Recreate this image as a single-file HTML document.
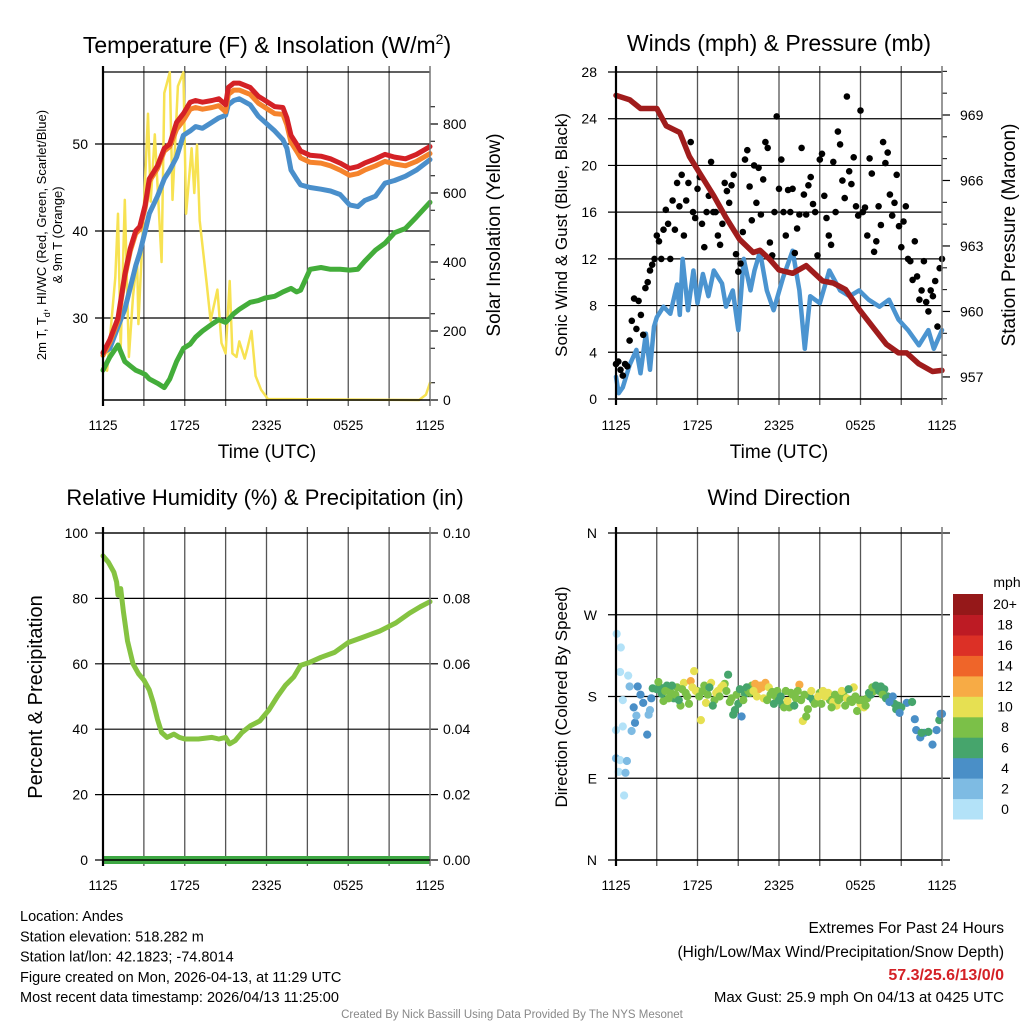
<!DOCTYPE html>
<html><head><meta charset="utf-8"><style>
html,body{margin:0;padding:0;background:#fff;}
svg{display:block;font-family:"Liberation Sans",Arial,sans-serif;}
</style></head><body>
<svg id="c" width="1024" height="1024" viewBox="0 0 1024 1024"></svg>
<script>
// ---------- DATA ----------
const tempT=[0,0.5,1.1,1.6,2,2.4,2.7,3.1,3.4,4,4.5,4.9,5.4,5.9,6.4,6.8,7.3,8,8.5,9,9.2,9.6,10,10.8,11.4,11.9,12.6,13.2,13.5,13.8,14.2,14.5,15.2,16,16.7,17.4,18.1,18.7,19.2,20,20.7,21.4,22.2,23,24];
const tempRed=[26,27.5,30,35,38,40,40.5,43,46,47.5,49.5,50,52.5,53.5,54.8,55,54.8,55,55.2,54.5,56.5,57,57,56.5,55.5,55,54.3,54.2,53,51,50,49.2,48.7,48.6,48.3,47.8,47.2,47.4,47.8,48.3,48.8,48.5,48.3,48.8,49.7];
const tempBlue=[26,26.5,29,31,33.5,36,37.5,40,42,44,46,47,48.5,51,51.5,52,51.8,52.5,53,53.3,54.5,55,55.2,54.5,53.2,52.5,51.5,50.5,49.5,47,46,45.3,45,44.8,44.6,44.2,43,42.8,43.5,44,45.5,45.8,46.3,47,48.2];
const tempGreen=[24,25.5,26.9,25,24.5,24,23.8,23.5,23,22.5,22,23,25,26.5,27,27.8,28.5,29.3,29.8,29.5,29.8,30.5,31,31.8,32,32.3,32.5,33,33.2,33.4,33,33.2,35.6,35.8,35.6,35.6,35.5,35.6,36.5,37.8,38.6,39.8,40.3,41.6,43.3];
const solarT=[0,0.3,0.9,1.1,1.3,1.6,1.9,2.2,2.5,2.6,3.0,3.3,3.5,3.8,4.3,4.5,4.9,5.1,5.5,5.9,6.1,6.5,6.7,6.9,7.1,7.6,7.9,8.4,8.7,9.0,9.3,9.5,9.8,10.0,10.4,10.6,10.9,11.2,11.6,12.1,23.2,23.7,24];
const solarW=[100,85,355,540,150,580,125,300,410,220,560,830,575,770,400,890,950,580,910,950,540,730,600,740,520,340,230,320,165,135,345,135,125,170,120,150,200,70,30,3,0,15,50];
const presT=[0,1,1.8,3,3.7,4.7,5.4,6.2,7.2,8.1,9.1,10.1,10.6,11.3,12,13,14,15.2,16,16.9,17.9,18.9,19.9,20.8,21.4,22.3,23.3,24];
const presMb=[969.9,969.7,969.3,969.3,968.5,968.2,967.1,966.3,965.3,964.3,963.3,962.7,962.8,962.4,961.9,961.75,962.1,961.4,961.3,961,960.1,959.3,958.5,958.1,958.1,957.6,957.25,957.3];
const windT=[0,0.2,0.5,1,1.5,1.8,2.2,2.5,2.8,3,3.5,4,4.5,4.7,4.9,5.3,5.7,6,6.4,6.8,7.2,7.8,8.1,8.6,9,9.4,9.9,10.2,10.6,11.1,11.6,12.3,13,13.5,13.9,14.3,15,15.7,16.5,17.2,17.9,18.6,19.4,20.1,20.8,21.5,22.3,23,23.4,24];
const windMph=[1.9,0.5,1,2.9,4.2,2.2,5.6,2.5,6.2,7,7.9,7.3,9.8,7.2,12,7.6,11,8.2,10.7,8.8,11,9.9,7.9,9.3,5.9,12,9.3,11,12.6,9.3,7.6,10.4,12.7,9.3,4.3,8.8,8.2,11,9.3,8.8,9.3,8.5,7.9,8.5,6.8,5.9,4.6,5.9,4.3,5.9];
const gustMph=[3,3.2,2.5,2,3,2.8, 5,6.7,8.6,6,8.4,7.2, 5.5,9.5,10,11,11.5,12, 14,13.5,12,14.5,16.2,15, 12,17,14.5,18.5,16.5,19.2, 14,17,18.5,22,16,15.5, 18,19,15,13,16,17.4, 20.3,16,16,14,13.2,15, 18.5,17.8,16.8,18.3,19.2,12.4, 10.9,11.6,14.3,20.5,21.3,18.2, 15.3,20,16.8,19.8,15.8,18.8, 22,21.5,13.4,12.3,16,24.2, 18,20.5,16,14,17.9,16, 18,12.5,14.6,15.8,21.5,17.5, 15.8,18.3,19,16.7,16,12.3, 20.5,21,17.4,15.5,14,13.2, 20.3,16,22.9,21.8,18.7,17.2, 25.9,19.5,18.4,20.7,16.5,15.7, 24.7,16,16.4,14,20.6,19.3, 12.6,13.5,16.5,14.9,22,20.2, 21.1,17.5,15.7,16.8,19.2,14.8, 13,15.2,16.5,12,11.8,10.2, 13.5,10.5,8.5,9.3,11.8,8.3, 7.5,9.3,8.8,10.1,6.2,11.2, 12];
const rhT=[0,0.4,0.8,1.0,1.1,1.3,1.5,1.8,2.2,2.6,3.0,3.4,3.7,4.0,4.3,4.7,5.2,5.6,6,7,8,8.5,9,9.3,9.7,10.2,10.8,11.5,12.2,12.8,13.4,14,14.5,15.2,16,17,18,19,20.3,21.5,22.5,23.3,24];
const rhPct=[93,91,88,85,81,83,76,67,60,57,55,52,48,43,39,37.5,38.5,37.5,37,37,37.5,37,37.5,35.5,36.5,39,41,42.5,46,50,53.5,56,59.5,60.5,62,63.5,66.5,68,70,72.5,75.5,77.5,79];
const dirT=[0.05,0.35,0.3,0.9,1.0,0.5,0,0.5,0,0.3,0.8,0.2,0.7,0.6,1.3,1.4,1.15,1.5,1.6,1.8,2.0,2.3,2.4,2.5,2.6,2.7,21.4,22,22.1,22.4,22.7,23,23.3,23.6,23.8,23.9,24,21.8,22.5];
const dirDeg=[249,234,207,203,191,176,143,147,112,110,109,97,96,71,168,151,142,159,191,182,173,138,160,165,178,189,173,155,143,135,140,141,127,143,154,161,161,174,140];
const dirSpd=[1,1,1,1.5,3,1,1,1,3,1,3,1,3,1,4,4,3,3,4,4,5,4,3,3,4,6,4,4,4,5,4,6,4,4,6,4,4,6,6];
const bandDeg=[188,190,175,192,185,178,190,170,195,180,197,208,186,154,192,182,195,176,186,190,194,204,178,165,172,158,183,186,192,194,188,190,195,190,185,180,176,171,186,168,182,178,193,153,158,180,176,174,184,186,180,176,174,170,178,182,178,176,190,164,172,168,178,182,186,190,191,188,180,176,172,170,168];
const bandSpd=[7,6,8,7,8,6,9,8,10,8,13,10,8,10,9,8,10,8,11,10,8,6,8,7,6,5,7,8,9,12,13,12,12,10,8,9,7,6,8,9,8,9,12,10,9,7,6,8,8,10,9,8,10,10,8,9,11,9,10,8,10,11,8,7,8,7,7,6,6,5,7,6,6];
const band2Deg=[196,183,186,178,192,182,176,188,184,172,190,186,180,186,173,190,170,184,180,192,186,174,160,182,188,176,190,184,186,180,192,178,176,182,172,186,180,168,175,184,170,186,176,182,166,186,172,180,172,180,184,168,182,176,186,170,188,174,180,176,176,170,184,190,192,186,182,178,174,180,166,162];
const band2Spd=[8,7,9,8,7,8,7,9,9,8,11,10,9,8,10,7,7,10,9,11,9,8,7,8,7,8,6,9,10,11,12,10,8,9,7,8,6,8,10,9,7,8,9,8,8,10,9,10,8,11,10,9,8,9,10,8,7,8,9,8,9,8,7,8,6,7,8,7,5,4,6,5];
const timeLabels=["1125","1725","2325","0525","1125"];
const tempTicks=[30,40,50];
const solarTicks=[0,200,400,600,800];
const windTicks=[0,4,8,12,16,20,24,28];
const presTicks=[957,960,963,966,969];
const rhTicks=[0,20,40,60,80,100];
const precipTicks=["0.00","0.02","0.04","0.06","0.08","0.10"];
const dirLabels=["N","E","S","W","N"];
const cbLabels=["0","2","4","6","8","10","12","14","16","18","20+"];
const cbColors=["#b3e2f8","#7ebbe3","#4a8fc7","#46a56c","#7bc048","#e6e052","#f7ab45","#ef6529","#dc3026","#bd1b24","#951819"];

// ---------- helpers ----------
const svg=document.getElementById('c');
const NS="http://www.w3.org/2000/svg";
function mk(tag,attrs,parent){const e=document.createElementNS(NS,tag);for(const k in attrs)e.setAttribute(k,attrs[k]);(parent||svg).appendChild(e);return e;}
function txt(x,y,s,size,anchor,extra){const e=mk('text',Object.assign({x:x,y:y,'font-size':size,'text-anchor':anchor||'middle',fill:'#000'},extra||{}));e.textContent=s;return e;}
function spdColor(s){let i=Math.floor(s/2);if(i>10)i=10;if(i<0)i=0;return cbColors[i];}

const L1=103,R1=430,T1=72,B1=400;
const L2=616,R2=942,T2=72,B2=399;
const T3=533,B3=860;
const xh1=h=>L1+h*(R1-L1)/24;
const xh2=h=>L2+h*(R2-L2)/24;
const yTemp=v=>144-(v-50)*8.7;
const ySolar=v=>400-v*0.345;
const yWind=v=>B2-v*(B2-T2)/28;
const yPres=v=>115-(v-969)*21.83;
const yRh=v=>B3-v*(B3-T3)/100;
const yDir=v=>B3-v*(B3-T3)/360;

function frame(L,R,T,B,name){
  const g=mk('g',{});
  
  
  for(let i=1;i<8;i++){const x=L+i*(R-L)/8;mk('line',{x1:x,y1:T-6,x2:x,y2:B+6,stroke:'#555','stroke-width':1.3},g);}
  mk('line',{x1:L,y1:T,x2:R,y2:T,stroke:'#000','stroke-width':1.2},g);
  return g;
}
function axesBox(L,R,T,B,name){
  const g=mk('g',{});
  
  
  mk('line',{x1:L,y1:T-6,x2:L,y2:B+6,stroke:'#000','stroke-width':2.2},g);
  mk('line',{x1:R,y1:T-6,x2:R,y2:B+6,stroke:'#777','stroke-width':1.5},g);
  mk('line',{x1:L,y1:B,x2:R,y2:B,stroke:'#000','stroke-width':1.5},g);
  return g;
}
function timeAxis(L,R,B){
  timeLabels.forEach((s,i)=>{const t=txt(L+i*(R-L)/4,B+30,s,13.5);
  
  });
}
function hline(L,R,y,parent,len){mk('line',{x1:L-(len||8),y1:y,x2:R,y2:y,stroke:'#000','stroke-width':1.2},parent);}
function poly(pts,color,w,name){const p=mk('polyline',{points:pts.map(p=>p[0].toFixed(1)+','+p[1].toFixed(1)).join(' '),fill:'none',stroke:color,'stroke-width':w,'stroke-linejoin':'round','stroke-linecap':'round'});
 
 return p;}

// ---------- Panel 1 ----------
{
const t=txt(267,53,"Temperature (F) & Insolation (W/m",23);


const sup=mk('tspan',{dy:-9,'font-size':14},t);sup.textContent="2";
const cl=mk('tspan',{dy:9},t);cl.textContent=")";
const g=frame(L1,R1,T1,B1,'temp');
tempTicks.forEach(v=>{hline(L1,R1,yTemp(v),g);const l=txt(88,yTemp(v)+5,String(v),14,'end');
 
 });
solarTicks.forEach(v=>{mk('line',{x1:R1,y1:ySolar(v),x2:R1+8,y2:ySolar(v),stroke:'#000','stroke-width':1.2});const l=txt(443,ySolar(v)+5,String(v),14,'start');
 
 });
for(let v=50;v<950;v+=100){mk('line',{x1:R1,y1:ySolar(v),x2:R1+5,y2:ySolar(v),stroke:'#000','stroke-width':1});}
poly(solarT.map((h,i)=>[xh1(h),ySolar(solarW[i])]),'#f7e252',2.5,'solar-line');
poly(tempT.map((h,i)=>[xh1(h),yTemp(tempGreen[i])]),'#43ad3a',5,'dewpoint-line');
poly(tempT.map((h,i)=>[xh1(h),yTemp(tempBlue[i])]),'#4a8fcb',5,'windchill-line');
poly(tempT.map((h,i)=>[xh1(h),yTemp(tempRed[i]-(h>5?0.8:0.3))]),'#f5832c',5,'temp9m-line');
poly(tempT.map((h,i)=>[xh1(h),yTemp(tempRed[i])]),'#d42126',5,'temp2m-line');
axesBox(L1,R1,T1,B1,'temp');
timeAxis(L1,R1,B1);
const xl=txt(267,458,"Time (UTC)",19);


const yl=mk('text',{transform:'translate(46,235) rotate(-90)','text-anchor':'middle','font-size':13,fill:'#000'});


const a=mk('tspan',{x:0,y:0},yl);a.textContent="2m T, T";
const sb=mk('tspan',{dy:4,'font-size':9},yl);sb.textContent="d";
const b=mk('tspan',{dy:-4},yl);b.textContent=", HI/WC (Red, Green, Scarlet/Blue)";
const c2=mk('tspan',{x:0,y:16},yl);c2.textContent="& 9m T (Orange)";
const yr=mk('text',{transform:'translate(500,235) rotate(-90)','text-anchor':'middle','font-size':19,fill:'#000'});
yr.textContent="Solar Insolation (Yellow)";


}

// ---------- Panel 2 ----------
{
const t=txt(779,51,"Winds (mph) & Pressure (mb)",23);


const g=frame(L2,R2,T2,B2,'wind');
windTicks.forEach(v=>{hline(L2,R2,yWind(v),g);const l=txt(597,yWind(v)+5,String(v),14,'end');
 
 });
presTicks.forEach(v=>{mk('line',{x1:R2,y1:yPres(v),x2:R2+8,y2:yPres(v),stroke:'#000','stroke-width':1.2});const l=txt(960,yPres(v)+5,String(v),14,'start');
 
 });
for(let v=956;v<=971;v++){mk('line',{x1:R2,y1:yPres(v),x2:R2+5,y2:yPres(v),stroke:'#000','stroke-width':1});}
poly(windT.map((h,i)=>[xh2(h),yWind(windMph[i])]),'#4b94d0',4.5,'sonic-wind-line');
gustMph.forEach((v,i)=>{const c=mk('circle',{cx:xh2(i/6).toFixed(1),cy:yWind(v).toFixed(1),r:3.3,fill:'#000'});
 
 });
poly(presT.map((h,i)=>[xh2(h),yPres(presMb[i])]),'#a01c1c',5.5,'pressure-line');
axesBox(L2,R2,T2,B2,'wind');
timeAxis(L2,R2,B2+1);
const xl=txt(779,458,"Time (UTC)",19);


const yl=mk('text',{transform:'translate(567,235) rotate(-90)','text-anchor':'middle','font-size':17,fill:'#000'});
yl.textContent="Sonic Wind & Gust (Blue, Black)";


const yr=mk('text',{transform:'translate(1015,235) rotate(-90)','text-anchor':'middle','font-size':19,fill:'#000'});
yr.textContent="Station Pressure (Maroon)";


}

// ---------- Panel 3 ----------
{
const t=txt(265,505,"Relative Humidity (%) & Precipitation (in)",22);


const g=frame(L1,R1,T3,B3,'rh');
rhTicks.forEach((v,i)=>{hline(L1,R1,yRh(v),g);const l=txt(88,yRh(v)+5,String(v),14,'end');
 
 
 mk('line',{x1:R1,y1:yRh(v),x2:R1+8,y2:yRh(v),stroke:'#000','stroke-width':1.2});
 const r=txt(443,yRh(v)+5,precipTicks[i],14,'start');
 
 });
poly(rhT.map((h,i)=>[xh1(h),yRh(rhPct[i])]),'#85c341',5,'rh-line');
const pr=mk('rect',{x:L1,y:B3-4,width:R1-L1,height:8,fill:'#3ea843'});


axesBox(L1,R1,T3,B3,'rh');
timeAxis(L1,R1,B3);
const yl=mk('text',{transform:'translate(42,697) rotate(-90)','text-anchor':'middle','font-size':20,fill:'#000'});
yl.textContent="Percent & Precipitation";


}

// ---------- Panel 4 ----------
{
const t=txt(779,505,"Wind Direction",22);


const g=frame(L2,R2,T3,B3,'direction');
dirLabels.forEach((s,i)=>{const v=i*90;hline(L2,R2+8,yDir(v),g);const l=txt(597,yDir(v)+5,s,14,'end');
 
 });
function dot(h,d,s){const c=mk('circle',{cx:xh2(h).toFixed(1),cy:yDir(d).toFixed(1),r:4.1,fill:spdColor(s)});
 
 }
dirT.forEach((h,i)=>dot(h,dirDeg[i],dirSpd[i]));
bandDeg.forEach((d,i)=>dot(3+i*0.25,d,bandSpd[i]));
band2Deg.forEach((d,i)=>dot(3.125+i*0.25,d,band2Spd[i]));
axesBox(L2,R2,T3,B3,'direction');
timeAxis(L2,R2,B3);
const yl=mk('text',{transform:'translate(567,697) rotate(-90)','text-anchor':'middle','font-size':17,fill:'#000'});
yl.textContent="Direction (Colored By Speed)";


const cb=mk('g',{});


const cbT=594,cbB=819,h=(cbB-cbT)/11;
cbColors.forEach((c,i)=>{mk('rect',{x:953,y:(cbB-(i+1)*h).toFixed(1),width:30,height:(h+0.5).toFixed(1),fill:c},cb);
 const l=txt(1005,cbB-(i+0.5)*h+5,cbLabels[i],14,'middle');
 
 });
const u=txt(1007,587,"mph",14,'middle');


}

// ---------- Footer ----------
{
const lines=["Location: Andes","Station elevation: 518.282 m","Station lat/lon: 42.1823; -74.8014","Figure created on Mon, 2026-04-13, at 11:29 UTC","Most recent data timestamp: 2026/04/13 11:25:00"];
lines.forEach((s,i)=>{const t=txt(20,921+i*20.3,s,14.5,'start');
 
 });
const r1=txt(1004,933,"Extremes For Past 24 Hours",15.5,'end');


const r2=txt(1004,957,"(High/Low/Max Wind/Precipitation/Snow Depth)",15.5,'end');


const r3=txt(1004,980,"57.3/25.6/13/0/0",16,'end',{fill:'#d42126','font-weight':'bold'});


const r4=txt(1004,1002,"Max Gust: 25.9 mph On 04/13 at 0425 UTC",15,'end');


const cr=txt(512,1018,"Created By Nick Bassill Using Data Provided By The NYS Mesonet",11.5,'middle',{fill:'#888'});


}
</script>
</body></html>
